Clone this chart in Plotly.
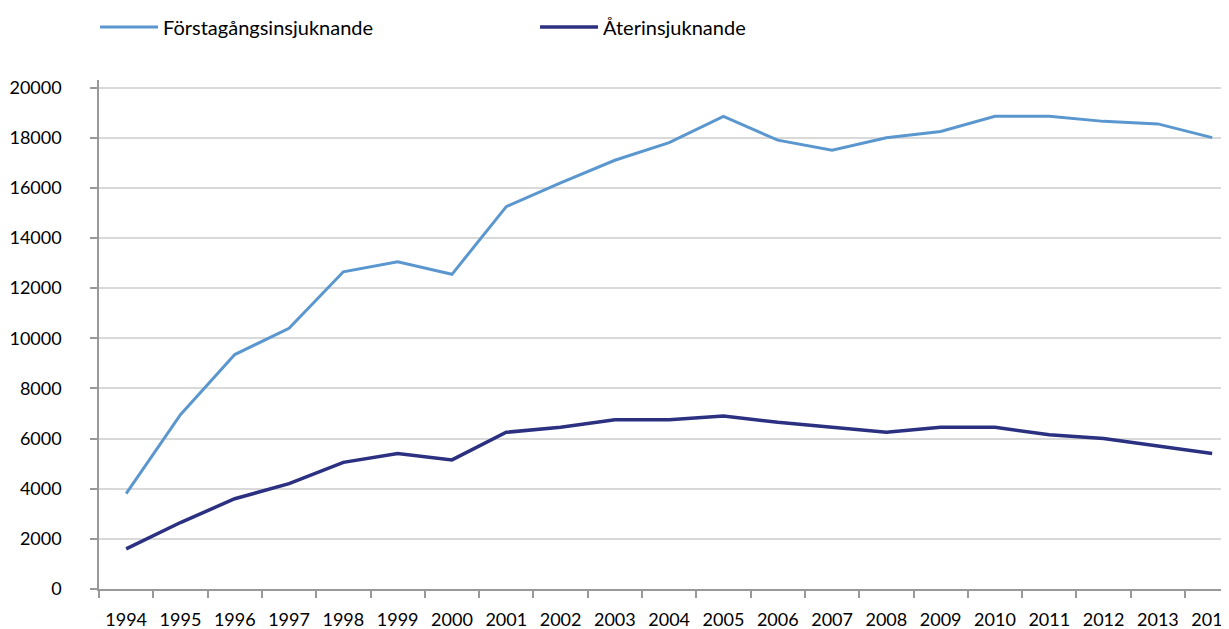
import plotly.graph_objects as go

years = [str(y) for y in range(1994, 2015)]
forstagangs = [3800, 6950, 9350, 10400, 12650, 13050, 12550, 15250, 16200, 17100,
               17800, 18850, 17900, 17500, 18000, 18250, 18850, 18850, 18650, 18550, 18000]
aterinsjuknande = [1600, 2650, 3600, 4200, 5050, 5400, 5150, 6250, 6450, 6750,
                   6750, 6900, 6650, 6450, 6250, 6450, 6450, 6150, 6000, 5700, 5400]
series_names = ["Förstagångsinsjuknande", "Återinsjuknande"]
y_ticks = list(range(0, 20001, 2000))

FONT = "Lato"
fig = go.Figure()
fig.add_trace(go.Scatter(x=years, y=forstagangs, mode="lines", name=series_names[0],
                         line=dict(color="#5B97CF", width=3)))
fig.add_trace(go.Scatter(x=years, y=aterinsjuknande, mode="lines", name=series_names[1],
                         line=dict(color="#2B3080", width=3.5)))

# page body has an 8px margin; the figure is sized so it fills the 1229x629 window
fig.update_layout(
    width=1221, height=621,
    margin=dict(l=91, r=0, t=72, b=40, autoexpand=False),
    paper_bgcolor="white", plot_bgcolor="white",
    font=dict(family=FONT, size=18, color="#000000"),
    showlegend=True,
    legend=dict(orientation="h", x=-0.0035, xanchor="left", y=1.104, yanchor="middle",
                font=dict(family=FONT, size=20, color="#000000"),
                entrywidth=367, entrywidthmode="pixels", itemwidth=58,
                bgcolor="rgba(0,0,0,0)"),
    xaxis=dict(type="category", range=[-0.5, 20.31], tickson="boundaries",
               ticks="outside", ticklen=7, tickcolor="#999999", tickwidth=1.5,
               showline=True, linecolor="#999999", linewidth=1.5, automargin=False,
               showgrid=False, zeroline=False, ticklabelstandoff=14,
               tickfont=dict(family=FONT, size=18, color="#000000")),
    yaxis=dict(range=[0, 20300], tickvals=y_ticks, ticktext=[str(v) for v in y_ticks],
               ticks="outside", ticklen=7, tickcolor="#999999", tickwidth=1.5,
               showline=True, linecolor="#999999", linewidth=1.5, automargin=False,
               showgrid=True, gridcolor="#D9D9D9", gridwidth=1.5, zeroline=False,
               ticklabelstandoff=25,
               tickfont=dict(family=FONT, size=18, color="#000000")),
)
fig.write_html("out.html")
